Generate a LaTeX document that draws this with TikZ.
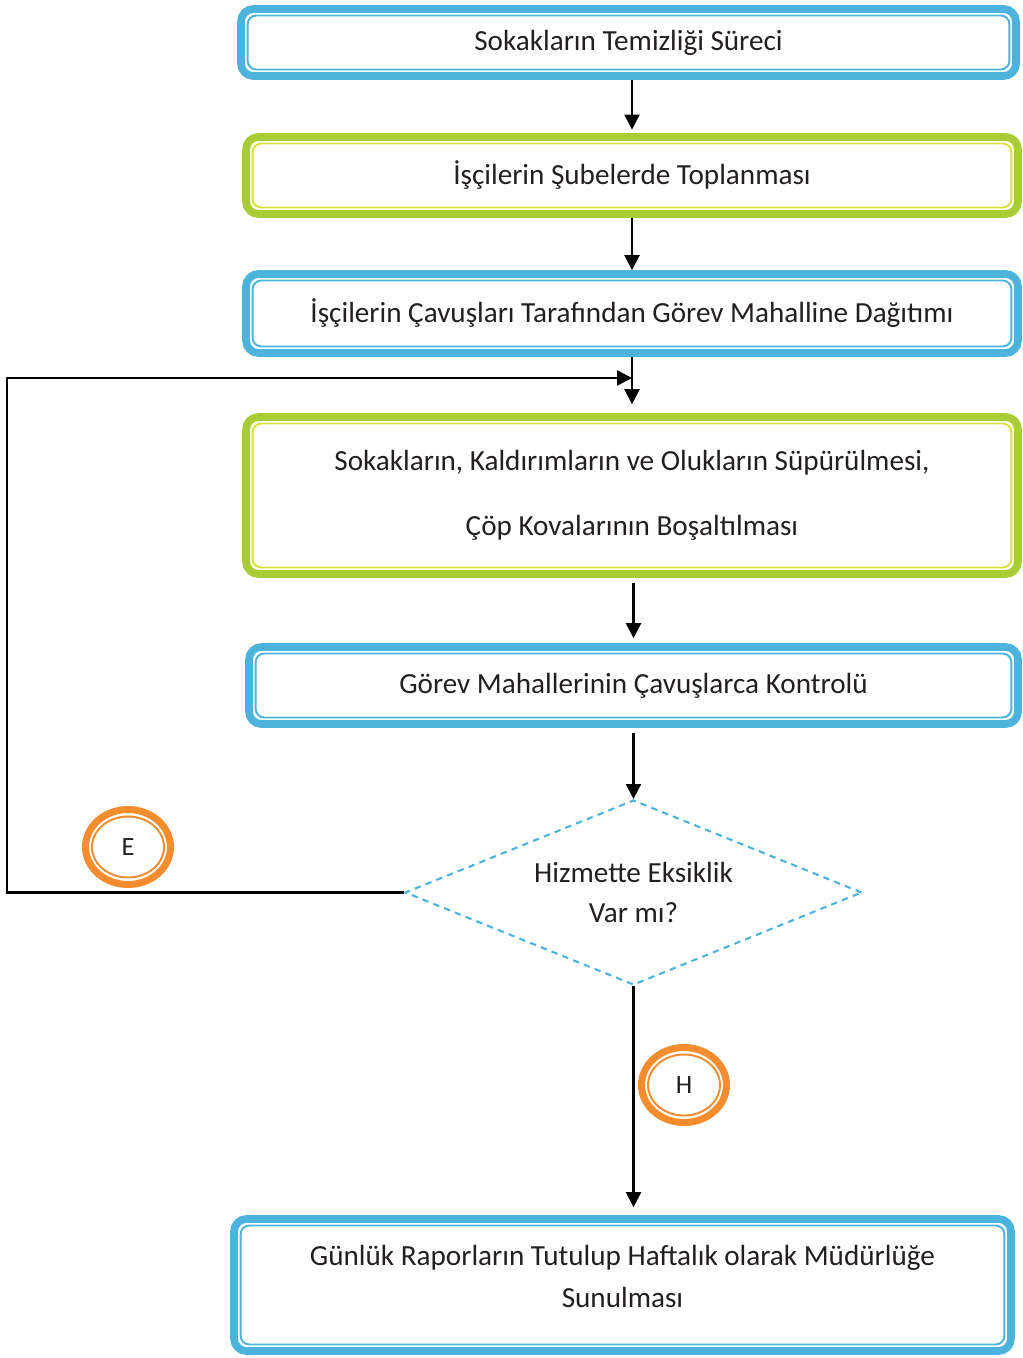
\documentclass[tikz,border=0pt]{standalone}
\usepackage{fontspec}
\setmainfont{Carlito}
\usetikzlibrary{positioning,shapes.geometric,arrows.meta,calc}
\definecolor{kutumavi}{RGB}{76,180,220}
\definecolor{kutuyesil}{RGB}{168,204,52}
\definecolor{icsari}{RGB}{218,224,60}
\definecolor{turuncu}{RGB}{245,140,45}
\definecolor{yazi}{RGB}{35,31,32}
\tikzset{
  kutu/.style 2 args={draw=#1, line width=4.4pt, rounded corners=7pt,
    text=yazi, align=center, inner sep=0pt,
    font=\fontsize{16.6}{20}\selectfont,
    path picture={\draw[#2, line width=1.1pt, rounded corners=5pt]
      ([shift={(0.13cm,-0.13cm)}]path picture bounding box.north west) rectangle
      ([shift={(-0.13cm,0.13cm)}]path picture bounding box.south east);}},
  karar/.style={diamond, aspect=2.47, draw=kutumavi, line width=1.2pt,
    dash pattern=on 3.6pt off 3pt, inner sep=0pt, align=center, text=yazi,
    minimum width=9.14cm, minimum height=3.7cm,
    font=\fontsize{16.6}{20}\selectfont},
  harf/.style={ellipse, draw=turuncu, line width=4pt, text=yazi,
    minimum width=1.7cm, minimum height=1.5cm, inner sep=0pt,
    font=\fontsize{15}{18}\selectfont,
    path picture={\draw[turuncu, line width=1.1pt]
      (path picture bounding box.center) ellipse [x radius=0.72cm, y radius=0.61cm];}},
  ok/.style={->, line width=1.3pt, black},
  hat/.style={line width=1.4pt, black}
}
\begin{document}
\begin{tikzpicture}[x=0.02cm, y=-0.02cm, >={Triangle[length=8.5pt,width=8.5pt]}]
  \useasboundingbox (0,0) rectangle (1022,1358);

  % kutular
  \node[kutu={kutumavi}{kutumavi}, minimum width=15.5cm, minimum height=1.34cm]
    (surec) at (628.5,42.5) {Sokakların Temizliği Süreci};
  \node[kutu={kutuyesil}{icsari}, minimum width=15.44cm, minimum height=1.54cm]
    (toplanma) at (632,175.5) {İşçilerin Şubelerde Toplanması};
  \node[kutu={kutumavi}{kutumavi}, minimum width=15.44cm, minimum height=1.58cm]
    (dagitim) at (632,313.5) {İşçilerin Çavuşları Tarafından Görev Mahalline Dağıtımı};
  \node[kutu={kutuyesil}{icsari}, minimum width=15.44cm, minimum height=3.14cm]
    (supurme) at (632,495.5) {Sokakların, Kaldırımların ve Olukların Süpürülmesi,\\[17pt]Çöp Kovalarının Boşaltılması};
  \node[kutu={kutumavi}{kutumavi}, minimum width=15.38cm, minimum height=1.54cm]
    (kontrol) at (633.5,685.5) {Görev Mahallerinin Çavuşlarca Kontrolü};
  \node[karar] (eksik) at (633.5,892.5) {Hizmette Eksiklik\\[3pt]Var mı?};
  \node[kutu={kutumavi}{kutumavi}, minimum width=15.54cm, minimum height=2.64cm]
    (rapor) at (622.5,1285) {Günlük Raporların Tutulup Haftalık olarak Müdürlüğe\\[4pt]Sunulması\\[-10pt]\mbox{}};

  % evet / hayir
  \node[harf] (evet) at (128,847) {E};
  \node[harf] (hayir) at (684,1085) {H};

  % oklar
  \coordinate (orta) at (632,0);
  \coordinate (sol) at (7,0);
  \coordinate (birlesme) at (632,378);
  \draw[ok, shorten >=2pt] (surec.south -| orta) -- (toplanma.north -| orta);
  \draw[ok] (toplanma.south -| orta) -- (dagitim.north -| orta);
  \draw[ok, shorten >=0.18cm] (dagitim.south -| orta) -- (supurme.north -| orta);
  \draw[ok, shorten <=0.1cm, shorten >=0.1cm] (supurme.south -| eksik) -- (kontrol.north -| eksik);
  \draw[ok, shorten <=0.1cm] (kontrol.south -| eksik) -- (eksik.north);
  \draw[ok, shorten >=0.16cm] (eksik.south) -- (rapor.north -| eksik);
  \draw[hat, ->] (eksik.west) -- (eksik.west -| sol) |- (birlesme);
\end{tikzpicture}
\end{document}
